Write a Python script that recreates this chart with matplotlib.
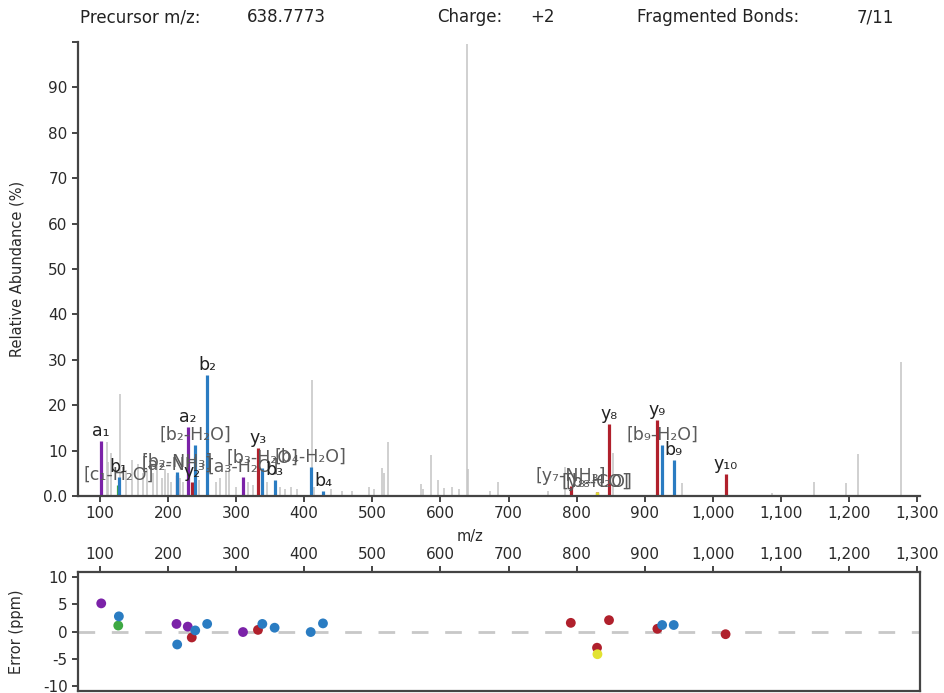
import matplotlib.pyplot as plt
from matplotlib.ticker import FuncFormatter

# matched fragment ions: m/z, relative abundance, mass error (ppm), ion type, label
ion_mz = [102.1, 127.1, 128.0, 212.6, 213.6, 229.1, 235.0, 240.1, 257.6, 310.2,
          332.2, 338.6, 356.6, 409.6, 427.6, 791.4, 829.9, 830.5, 847.5, 918.5,
          925.5, 942.5, 1018.6]
ion_int = [12.1, 2.5, 4.2, 4.6, 5.3, 15.2, 3.1, 11.2, 26.6, 4.2,
           10.5, 6.1, 3.5, 6.4, 1.0, 2.2, 0.8, 0.9, 15.8, 16.7,
           11.2, 7.9, 4.8]
ion_err = [5.2, 1.1, 2.8, 1.4, -2.4, 0.9, -1.1, 0.2, 1.4, -0.1,
           0.3, 1.4, 0.7, -0.1, 1.5, 1.6, -3.0, -4.2, 2.1, 0.5,
           1.2, 1.2, -0.5]
ion_type = ['a', 'c', 'b', 'a', 'b', 'a', 'y', 'b', 'b', 'a',
            'y', 'b', 'b', 'b', 'b', 'y', 'y', 'z', 'y', 'y',
            'b', 'b', 'y']
ion_label = ['a₁', '[c₁-H₂O]', 'b₁', '[a₂-NH₃]', '[b₂-NH₃]', 'a₂', 'y₂', '[b₂-H₂O]', 'b₂',
             '[a₃-H₂O]', 'y₃', '[b₃-H₂O]', 'b₃', '[b₄-H₂O]', 'b₄', '[y₇-NH₃]',
             '[y₈-H₂O]', '[b₈-CO]', 'y₈', 'y₉', '[b₉-H₂O]', 'b₉', 'y₁₀']

# unassigned peaks
other_mz = [110, 112, 117, 129.5, 139, 148, 156, 163, 170, 178, 184, 191, 195, 200,
            205, 217, 222, 246, 270, 276, 285, 290, 300, 318, 325, 345, 365, 372,
            380, 390, 411.3, 415, 440, 455, 470, 495, 502, 514, 517, 523, 571, 574,
            586, 596, 605, 617, 628, 638.8, 640.2, 673, 684, 758, 783, 853, 955,
            1087, 1148, 1195, 1213, 1276]
other_int = [11.9, 7.5, 9.4, 22.4, 5.7, 8.0, 7.0, 5.0, 6.0, 5.0, 7.0, 4.0, 6.0, 5.0,
             3.0, 4.0, 3.0, 3.5, 3.0, 4.0, 5.7, 5.7, 2.0, 3.0, 2.5, 3.0, 2.0, 1.5,
             2.0, 1.5, 25.6, 2.0, 1.5, 1.0, 1.0, 2.0, 1.5, 6.1, 5.0, 12.0, 2.6, 1.5,
             9.0, 3.5, 1.8, 2.0, 1.5, 99.5, 6.0, 1.2, 3.0, 1.2, 6.4, 9.5, 2.8,
             0.6, 3.1, 2.8, 9.2, 29.5]

colors = {'a': '#7b22a8', 'b': '#2a7cc2', 'c': '#3ea843', 'y': '#b0202c', 'z': '#e2e232'}
axis_col = '#444444'
text_col = '#2a2a2a'

plt.rcParams['font.family'] = 'DejaVu Sans'
plt.rcParams['axes.unicode_minus'] = False

fig = plt.figure(figsize=(9.44, 6.93), dpi=100)
ax = fig.add_axes([78 / 944, 1 - 496 / 693, (920 - 78) / 944, (496 - 42) / 693])
ax2 = fig.add_axes([78 / 944, 1 - 691 / 693, (920 - 78) / 944, (691 - 572) / 693])

# spectrum
ax.vlines(other_mz, 0, other_int, color='#c4c4c4', lw=1.1)
for mz, it, t in zip(ion_mz, ion_int, ion_type):
    ax.vlines(mz, 0, it, color=colors[t], lw=2.3)
for mz, it, lab in zip(ion_mz, ion_int, ion_label):
    c = '#5a5a5a' if lab.startswith('[') else '#222222'
    ax.annotate(lab, (mz, it), xytext=(0, 1), textcoords='offset points',
                ha='center', va='bottom', fontsize=12.5, color=c)

ax.set_xlim(68, 1304)
ax.set_ylim(0, 100)
ax.set_xticks(range(100, 1301, 100))
ax.xaxis.set_major_formatter(FuncFormatter(lambda v, p: f'{v:,.0f}'))
ax.set_yticks(range(0, 101, 10))
ax.set_yticklabels(['0.0'] + [str(v) for v in range(10, 100, 10)] + [''])
for s in ['top', 'right']:
    ax.spines[s].set_visible(False)
for s in ['left', 'bottom']:
    ax.spines[s].set_color(axis_col)
    ax.spines[s].set_linewidth(1.6)
ax.tick_params(colors=axis_col, labelcolor=text_col, labelsize=11, width=1.4, length=4)
ax.set_ylabel('Relative Abundance (%)', fontsize=10.5, color=text_col)
ax.yaxis.set_label_coords(-0.064, 0.5)
fig.text(470 / 944, 1 - 536 / 693, 'm/z', ha='center', va='center', fontsize=10.5, color=text_col)

# mass error panel
ax2.axhline(0, color='#c8c8c8', lw=2, dashes=(6, 6), zorder=1)
for mz, e, t in zip(ion_mz, ion_err, ion_type):
    ax2.scatter(mz, e, s=50, color=colors[t], edgecolors='none', zorder=3)
ax2.set_xlim(68, 1304)
ax2.set_ylim(-11, 11)
ax2.set_xticks(range(100, 1301, 100))
ax2.xaxis.set_major_formatter(FuncFormatter(lambda v, p: f'{v:,.0f}'))
ax2.xaxis.tick_top()
ax2.set_yticks([10, 5, 0, -5, -10])
for s in ax2.spines.values():
    s.set_color(axis_col)
    s.set_linewidth(1.6)
ax2.tick_params(colors=axis_col, labelcolor=text_col, labelsize=11, width=1.4, length=4)
ax2.set_ylabel('Error (ppm)', fontsize=10.5, color=text_col)
ax2.yaxis.set_label_coords(-0.064, 0.5)

# header line
hy = 1 - 17 / 693
for x, s in [(80, 'Precursor m/z:'), (247, '638.7773'), (437, 'Charge:'),
             (530, '+2'), (637, 'Fragmented Bonds:'), (857, '7/11')]:
    fig.text(x / 944, hy, s, ha='left', va='center', fontsize=12, color='#222222',
             family='DejaVu Sans Condensed')

fig.savefig('out.png', dpi=100)
